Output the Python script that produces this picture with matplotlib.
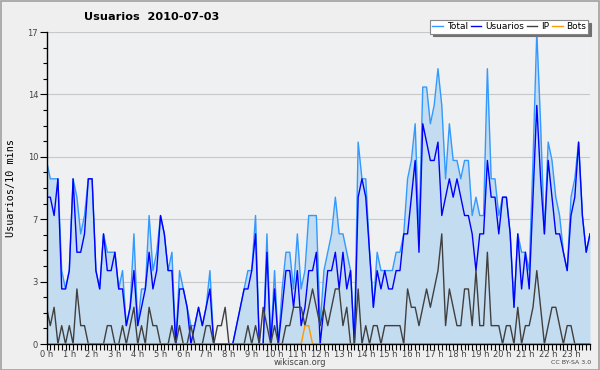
import matplotlib
matplotlib.use("Agg")
import matplotlib.pyplot as plt
from matplotlib.patches import Rectangle
import numpy as np

# users per 10 minutes, 144 slots (0:00 .. 23:50)
total = [10, 9, 9, 9, 4, 3, 4, 9, 8, 6, 7, 9, 9, 4, 3, 6, 5, 5, 5, 3,
         4, 1, 2, 6, 1, 3, 3, 7, 4, 5, 7, 6, 4, 5, 0, 4, 3, 2, 1, 1,
         2, 1, 2, 4, 0, 0, 0, 0, 0, 0, 1, 2, 3, 4, 4, 7, 0, 0, 6, 0,
         4, 0, 3, 5, 5, 3, 6, 3, 4, 7, 7, 7, 1, 4, 5, 6, 8, 6, 6, 5,
         4, 0, 11, 9, 9, 5, 2, 5, 4, 4, 4, 4, 5, 5, 6, 9, 10, 12, 6, 14,
         14, 12, 13, 15, 13, 9, 12, 10, 10, 9, 10, 10, 7, 8, 7, 7, 15, 9, 9, 7,
         8, 8, 6, 2, 6, 5, 5, 4, 10, 17, 12, 6, 11, 10, 8, 7, 5, 4, 8, 9,
         11, 7, 5, 6]
usuarios = [8, 8, 7, 9, 3, 3, 4, 9, 5, 5, 6, 9, 9, 4, 3, 6, 4, 4, 5, 3,
            3, 1, 2, 4, 1, 2, 3, 5, 3, 4, 7, 6, 4, 4, 0, 3, 3, 2, 0, 1,
            2, 1, 2, 3, 0, 0, 0, 0, 0, 0, 1, 2, 3, 3, 4, 6, 0, 0, 5, 0,
            3, 0, 2, 4, 4, 2, 4, 1, 2, 4, 4, 5, 0, 2, 4, 4, 5, 3, 5, 3,
            4, 0, 8, 9, 8, 5, 2, 4, 3, 4, 3, 3, 4, 4, 6, 6, 8, 10, 5, 12,
            11, 10, 10, 11, 7, 8, 9, 8, 9, 8, 7, 7, 6, 4, 6, 6, 10, 8, 8, 6,
            8, 8, 6, 2, 6, 3, 5, 3, 8, 13, 9, 6, 10, 8, 6, 6, 5, 4, 7, 8,
            11, 7, 5, 6]
ip = [2, 1, 2, 0, 1, 0, 1, 0, 3, 1, 1, 0, 0, 0, 0, 0, 1, 1, 0, 0,
      1, 0, 1, 2, 0, 1, 0, 2, 1, 1, 0, 0, 0, 1, 0, 1, 0, 0, 1, 0,
      0, 0, 1, 1, 0, 1, 1, 2, 0, 0, 0, 0, 0, 1, 0, 1, 0, 2, 1, 0,
      1, 0, 0, 1, 1, 2, 2, 2, 1, 2, 3, 2, 1, 2, 1, 2, 3, 3, 1, 2,
      0, 0, 3, 0, 1, 0, 1, 1, 0, 1, 1, 1, 1, 1, 0, 3, 2, 2, 1, 2,
      3, 2, 3, 4, 6, 1, 3, 2, 1, 1, 3, 3, 1, 4, 1, 1, 5, 1, 1, 1,
      0, 1, 1, 0, 2, 0, 1, 1, 2, 4, 2, 0, 1, 2, 2, 1, 0, 1, 1, 0,
      0, 0, 0, 0]
bots = [0] * 68 + [1, 1] + [0] * 74

hours = list(range(24))
ytick_labels = ["0", "3", "7", "10", "14", "17"]

x = np.arange(len(total))

plt.rcParams["font.family"] = "DejaVu Sans"
fig = plt.figure(figsize=(6, 3.7), dpi=100, facecolor="#efefef")
fig.patches.append(Rectangle((0.001, 0.001), 0.997, 0.997, transform=fig.transFigure,
                             fill=False, edgecolor="#a0a0a0", lw=1.2))
ax = fig.add_axes([46.5 / 600, 26 / 370, 543.5 / 600, 312 / 370])
ax.set_facecolor("#eef0f2")

ax.fill_between(x, total, 0, color="#c4dcf0", lw=0)
ax.plot(x, total, color="#3399ff", lw=1, label="Total")
ax.plot(x, usuarios, color="#0000ff", lw=1, label="Usuarios")
ax.plot(x, ip, color="#404040", lw=1, label="IP")
ax.plot(x, bots, color="#ff9900", lw=1, label="Bots")

ax.set_xlim(0, len(total) - 1)
ax.set_ylim(0, 17)

yt = [17 * k / 5 for k in range(6)]
ax.set_yticks(yt)
ax.set_yticklabels(ytick_labels)
ax.set_yticks([17 * k / 20 for k in range(21)], minor=True)
ax.set_xticks([h * 6 for h in hours])
ax.set_xticklabels([f"{h} h" for h in hours])
ax.set_xticks(x, minor=True)
ax.tick_params(axis="both", which="both", direction="out", colors="black",
               labelcolor="#444444", labelsize=6, width=0.8)
ax.tick_params(axis="x", which="both", length=4, pad=0)
ax.tick_params(axis="y", which="major", length=5, pad=1)
ax.tick_params(axis="y", which="minor", length=3)
ax.grid(axis="y", which="major", color="#c8c8c8", lw=0.8)
ax.set_axisbelow(True)
for s in ["top", "right"]:
    ax.spines[s].set_visible(False)
for s in ["left", "bottom"]:
    ax.spines[s].set_linewidth(1)

ax.set_ylabel("Usuarios/10 mins", family="DejaVu Sans Mono", fontsize=7.3,
              labelpad=8)

fig.text(0.252, 0.955, "Usuarios  2010-07-03", ha="center", va="center",
         fontsize=8.1, fontweight="bold")

leg = fig.legend(loc="upper right", bbox_to_anchor=(0.988, 0.958), ncol=4,
                 fontsize=6.5, handlelength=1.2, handletextpad=0.4,
                 columnspacing=0.3, borderpad=0.25, fancybox=False,
                 shadow={"color": "#707070", "alpha": 1}, framealpha=1,
                 edgecolor="#888888")
leg.get_frame().set_linewidth(0.8)

fig.text(0.5, 0.02, "wikiscan.org", ha="center", va="center", fontsize=6,
         color="#444444")
fig.text(0.985, 0.02, "CC BY-SA 3.0", ha="right", va="center", fontsize=4.5,
         color="#444444")

fig.savefig("out.png", dpi=100, facecolor=fig.get_facecolor())
